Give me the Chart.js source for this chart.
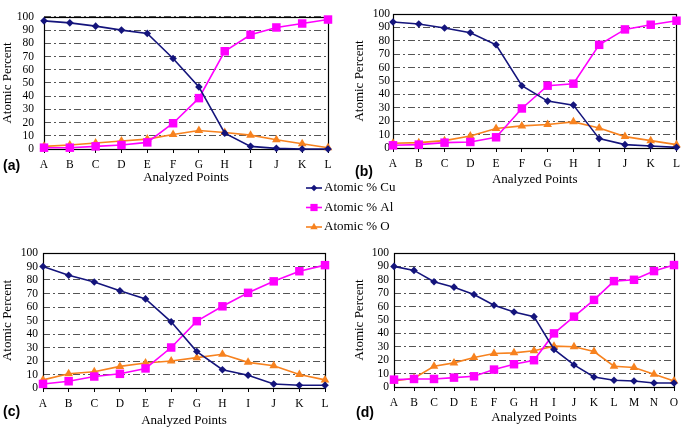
<!DOCTYPE html>
<html lang="en">
<head>
    <meta charset="UTF-8">
    <title>Atomic Percent</title>
    <style>
        body {
            margin: 0;
            padding: 0;
            background: #fff;
            width: 685px;
            height: 428px;
            position: relative;
            overflow: hidden;
        }

        .panel {
            position: absolute;
        }

        .tag {
            position: absolute;
            font-family: "Liberation Sans", Arial, sans-serif;
            font-weight: bold;
            font-size: 14px;
            line-height: 14px;
        }

        #legend {
            position: absolute;
            left: 300px;
            top: 176px;
        }
    </style>
</head>
<body>
    <canvas id="chartA" class="panel"></canvas>
    <canvas id="chartB" class="panel"></canvas>
    <canvas id="chartC" class="panel"></canvas>
    <canvas id="chartD" class="panel"></canvas>
    <canvas id="legend" width="110" height="62"></canvas>

    <div class="tag" style="left:3px; top:158px;">(a)</div>
    <div class="tag" style="left:355px; top:164px;">(b)</div>
    <div class="tag" style="left:3px; top:404px;">(c)</div>
    <div class="tag" style="left:356px; top:405px;">(d)</div>

    <script src="https://cdn.jsdelivr.net/npm/chart.js"></script>
    <script>
        const points12 = ['A', 'B', 'C', 'D', 'E', 'F', 'G', 'H', 'I', 'J', 'K', 'L'];
        const points15 = ['A', 'B', 'C', 'D', 'E', 'F', 'G', 'H', 'I', 'J', 'K', 'L', 'M', 'N', 'O'];

        // (a)
        const cuA = [97, 95.5, 93, 90, 87.5, 68.5, 47, 12, 2, 0.5, 0, 0];
        const alA = [1, 1, 2, 3, 5, 19.5, 38.5, 74, 86.5, 92, 95, 98];
        const oA  = [2, 3, 4.5, 6, 7.5, 11, 14, 12.5, 10.5, 7, 4, 1];

        // (b)
        const cuB = [94, 92.5, 89.5, 86, 77, 46.5, 35, 32, 7, 2.5, 1.5, 0.5];
        const alB = [2, 2.5, 4, 4.5, 8, 29.5, 46.5, 48, 77, 88.5, 92, 95];
        const oB  = [3.5, 4, 5.5, 9, 14.5, 16.5, 17.5, 19.5, 15, 8.5, 5.5, 2.5];

        // (c)
        const cuC = [90, 83.5, 78.5, 72, 66, 49, 27, 13.5, 9.5, 3, 2, 2];
        const alC = [3, 5, 8.5, 10.5, 14.5, 30, 49.5, 60.5, 70.5, 79, 86.5, 91];
        const oC  = [6, 10.5, 12, 16, 18.5, 20, 22.5, 25, 19, 16.5, 10, 6];

        // (d)
        const cuD = [90, 87, 78.5, 74.5, 69, 61, 56, 52.5, 28, 16.5, 7.5, 5, 4.5, 3, 3];
        const alD = [5.5, 6, 6, 7, 8, 13, 17, 20, 40, 52.5, 65, 79, 80, 86.5, 91];
        const oD  = [4.5, 6.5, 15.5, 18, 22, 25, 25.5, 27, 30.5, 30, 26.5, 15.5, 14.5, 9.5, 4.5];

        const seriesNames = ['Atomic % Cu', 'Atomic % Al', 'Atomic % O'];
        const seriesColors = ['#14147c', '#ff00ff', '#f7821f'];
        const seriesMarkers = ['rectRot', 'rect', 'triangle'];
        const markerSizes = [3.8, 6, 5];

        Chart.defaults.font.family = '"Liberation Serif", "Times New Roman", serif';
        Chart.defaults.font.size = 11.5;
        Chart.defaults.color = '#000';

        // solid frame round the plot area
        const frame = {
            id: 'frame',
            beforeDatasetsDraw(chart) {
                const a = chart.chartArea;
                const ctx = chart.ctx;
                ctx.save();
                ctx.strokeStyle = '#000';
                ctx.lineWidth = 1.2;
                ctx.strokeRect(Math.round(a.left) + 0.5, Math.round(a.top) + 0.5,
                    Math.round(a.right - a.left), Math.round(a.bottom - a.top));
                ctx.restore();
            }
        };

        function makePanel(id, labels, cu, al, o, g) {
            const el = document.getElementById(id);
            el.width = g.w;
            el.height = g.h;
            el.style.left = g.x + 'px';
            el.style.top = g.y + 'px';

            const datasets = [cu, al, o].map((vals, i) => ({
                label: seriesNames[i],
                data: vals,
                borderColor: seriesColors[i],
                backgroundColor: seriesColors[i],
                borderWidth: 1.6,
                pointStyle: seriesMarkers[i],
                pointRadius: markerSizes[i],
                pointBorderWidth: 0,
                tension: 0,
                clip: false
            }));

            return new Chart(el, {
                type: 'line',
                data: { labels: labels, datasets: datasets },
                options: {
                    responsive: false,
                    animation: false,
                    layout: { padding: { top: g.padTop, right: g.padRight, left: 0, bottom: 0 } },
                    plugins: {
                        legend: { display: false },
                        tooltip: { enabled: false }
                    },
                    scales: {
                        x: {
                            offset: false,
                            grid: {
                                display: true,
                                drawOnChartArea: false,
                                drawTicks: true,
                                tickLength: 4,
                                tickColor: '#000'
                            },
                            border: { display: false },
                            ticks: { padding: 5, maxRotation: 0, autoSkip: false },
                            title: {
                                display: true,
                                text: 'Analyzed Points',
                                font: { size: 13 },
                                padding: 0
                            },
                            afterFit: (s) => { s.height = g.xh; }
                        },
                        y: {
                            min: 0,
                            max: 100,
                            ticks: { stepSize: 10, padding: g.tickPad, autoSkip: false },
                            grid: {
                                color: '#555',
                                lineWidth: 1,
                                drawTicks: false
                            },
                            border: { display: false, dash: [7, 3, 2, 3] },
                            title: {
                                display: true,
                                text: 'Atomic Percent',
                                font: { size: 13 },
                                padding: 0
                            },
                            afterFit: (s) => { s.width = g.yw; }
                        }
                    }
                },
                plugins: [frame]
            });
        }

        makePanel('chartA', points12, cuA, alA, oA,
            { x: 0, y: 0, w: 340, h: 185, padTop: 15, padRight: 12, yw: 44, xh: 36, tickPad: 10 });
        makePanel('chartB', points12, cuB, alB, oB,
            { x: 352, y: 0, w: 333, h: 187, padTop: 14, padRight: 8, yw: 41, xh: 39, tickPad: 3 });
        makePanel('chartC', points12, cuC, alC, oC,
            { x: 0, y: 235, w: 340, h: 193, padTop: 18, padRight: 15, yw: 43, xh: 40, tickPad: 5 });
        makePanel('chartD', points15, cuD, alD, oD,
            { x: 352, y: 235, w: 333, h: 190, padTop: 18, padRight: 11, yw: 42, xh: 38, tickPad: 5 });

        // shared legend in the middle
        const lg = document.getElementById('legend').getContext('2d');
        lg.font = '13px "Liberation Serif", "Times New Roman", serif';
        lg.textBaseline = 'middle';
        seriesNames.forEach((name, i) => {
            const y = 12 + i * 19.5;
            lg.strokeStyle = seriesColors[i];
            lg.fillStyle = seriesColors[i];
            lg.lineWidth = 1.6;
            lg.beginPath();
            lg.moveTo(6, y);
            lg.lineTo(22, y);
            lg.stroke();
            Chart.helpers.drawPoint(lg, {
                pointStyle: seriesMarkers[i],
                radius: markerSizes[i] * 0.85,
                borderWidth: 0,
                rotation: 0
            }, 14, y);
            lg.fillStyle = '#000';
            lg.fillText(name, 24, y);
        });
    </script>
</body>
</html>
